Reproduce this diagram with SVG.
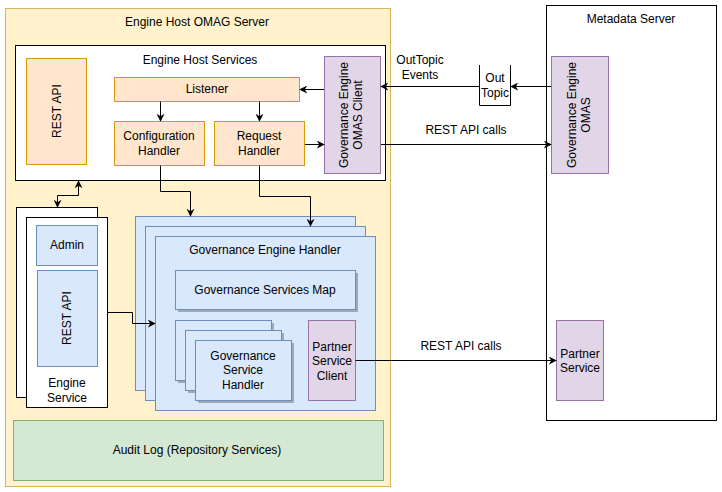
<svg xmlns="http://www.w3.org/2000/svg" width="722" height="492" viewBox="0 0 722 492">
<style>
text{font-family:"Liberation Sans",Arial,sans-serif;font-size:12px;fill:#000;text-anchor:middle}
.or{fill:#ffe6cc;stroke:#d79b00;stroke-width:1}
.pu{fill:#e1d5e7;stroke:#9673a6;stroke-width:1}
.bl{fill:#dae8fc;stroke:#6c8ebf;stroke-width:1}
.wh{fill:#fff;stroke:#000;stroke-width:1}
.sh{fill:#a0a8b5}
.c{fill:none;stroke:#000;stroke-width:1}
</style>
<defs>
<marker id="a" viewBox="0 0 10 10" refX="9" refY="5" markerWidth="8" markerHeight="8" orient="auto-start-reverse" markerUnits="userSpaceOnUse"><path d="M0,0 L10,5 L0,10 L3,5 Z" fill="#000"/></marker>
</defs>
<g id="engine-host-omag-server">
<rect x="5.5" y="8.5" width="385" height="478" fill="#fff2cc" stroke="#d6b656"/>
<text x="197" y="26">Engine Host OMAG Server</text>
</g>
<g id="engine-host-services">
<rect x="15.5" y="45.5" width="370" height="135" class="wh"/>
<text x="200" y="64">Engine Host Services</text>
</g>
<g id="rest-api-1"><rect x="26.5" y="58.5" width="60" height="106" class="or"/><text transform="translate(61,111) rotate(-90)">REST API</text></g>
<g id="listener"><rect x="114.5" y="77.5" width="185" height="24" class="or"/><text x="207" y="93">Listener</text></g>
<g id="configuration-handler"><rect x="114.5" y="121.5" width="90" height="44" class="or"/><text x="159" y="140">Configuration</text><text x="159" y="155">Handler</text></g>
<g id="request-handler"><rect x="214.5" y="121.5" width="90" height="44" class="or"/><text x="259" y="140">Request</text><text x="259" y="155">Handler</text></g>
<g id="omas-client"><rect x="324.5" y="56.5" width="56" height="117" class="pu"/><text transform="translate(348,115) rotate(-90)">Governance Engine</text><text transform="translate(362,115) rotate(-90)">OMAS Client</text></g>
<g id="metadata-server"><rect x="546.5" y="5.5" width="170" height="415" class="wh"/><text x="631" y="23">Metadata Server</text></g>
<g id="omas"><rect x="551.5" y="56.5" width="57" height="117" class="pu"/><text transform="translate(576,115) rotate(-90)">Governance Engine</text><text transform="translate(590,115) rotate(-90)">OMAS</text></g>
<g id="out-topic"><path d="M479.5,65 V105.5 H510.5 V65" class="c"/><text x="495" y="82">Out</text><text x="495" y="97">Topic</text></g>
<g id="partner-service"><rect x="556.5" y="320.5" width="47" height="80" class="pu"/><text x="580" y="358">Partner</text><text x="580" y="372">Service</text></g>
<g id="engine-service">
<rect x="16.5" y="207.5" width="81" height="190" class="wh"/>
<rect x="26.5" y="217.5" width="81" height="190" class="wh"/>
<text x="67" y="387">Engine</text><text x="67" y="402">Service</text>
</g>
<g id="admin"><rect x="36.5" y="225.5" width="61" height="40" class="bl"/><text x="67" y="249">Admin</text></g>
<g id="rest-api-2"><rect x="37.5" y="270.5" width="60" height="96" class="bl"/><text transform="translate(71,318) rotate(-90)">REST API</text></g>
<g id="governance-engine-handler">
<rect x="135.5" y="216.5" width="220" height="174" class="bl"/>
<rect x="145.5" y="226.5" width="220" height="174" class="bl"/>
<rect x="155.5" y="236.5" width="220" height="174" class="bl"/>
<text x="265" y="254">Governance Engine Handler</text>
</g>
<g id="governance-services-map"><rect x="178" y="273" width="180" height="39" class="sh"/><rect x="175.5" y="270.5" width="180" height="39" class="bl"/><text x="265" y="294">Governance Services Map</text></g>
<g id="governance-service-handler">
<rect x="178" y="323" width="96" height="60" class="sh"/>
<rect x="175.5" y="320.5" width="96" height="60" class="bl"/>
<rect x="188" y="333" width="96" height="60" class="sh"/>
<rect x="185.5" y="330.5" width="96" height="60" class="bl"/>
<rect x="198" y="343" width="96" height="60" class="sh"/>
<rect x="195.5" y="340.5" width="96" height="60" class="bl"/>
<text x="243" y="360">Governance</text><text x="243" y="374">Service</text><text x="243" y="389">Handler</text>
</g>
<g id="partner-service-client"><rect x="308.5" y="320.5" width="47" height="80" class="pu"/><text x="332" y="351">Partner</text><text x="332" y="365">Service</text><text x="332" y="380">Client</text></g>
<g id="audit-log"><rect x="13.5" y="420.5" width="370" height="60" fill="#d5e8d4" stroke="#82b366"/><text x="197" y="454">Audit Log (Repository Services)</text></g>
<g id="connectors">
<path d="M324,89.5 H300" class="c" marker-end="url(#a)"/>
<path d="M160.5,101.5 V121" class="c" marker-end="url(#a)"/>
<path d="M259.5,101.5 V121" class="c" marker-end="url(#a)"/>
<path d="M305,144.5 H324" class="c" marker-end="url(#a)"/>
<path d="M551,86.5 H511" class="c" marker-end="url(#a)"/>
<path d="M479,86.5 H381" class="c" marker-end="url(#a)"/>
<path d="M381,144.5 H551" class="c" marker-end="url(#a)"/>
<path d="M355.5,360.5 H556" class="c" marker-end="url(#a)"/>
<path d="M78.5,181 V195.5 H57.5 V207" class="c" marker-start="url(#a)" marker-end="url(#a)"/>
<path d="M160.5,165.5 V191.5 H190.5 V216" class="c" marker-end="url(#a)"/>
<path d="M259.5,165.5 V196.5 H310.5 V226" class="c" marker-end="url(#a)"/>
<path d="M107.5,312.5 H132.5 V323.5 H155" class="c" marker-end="url(#a)"/>
<text x="420" y="64">OutTopic</text><text x="420" y="79">Events</text>
<text x="466" y="134">REST API calls</text>
<text x="461" y="350">REST API calls</text>
</g>
</svg>
